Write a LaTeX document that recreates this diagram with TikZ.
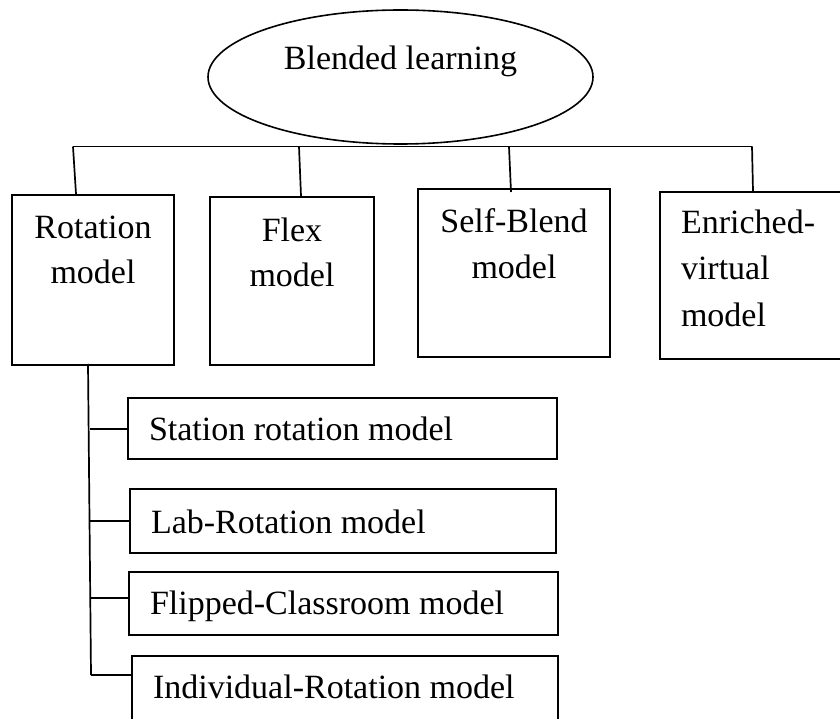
\documentclass[tikz,border=0pt]{standalone}
\usepackage{fontspec}
\setmainfont{Liberation Serif}
\usetikzlibrary{shapes.geometric}
\tikzset{
  boxst/.style={draw, line width=2pt, inner sep=0pt, anchor=north west,
    font=\fontsize{34pt}{45pt}\selectfont},
  conn/.style={line width=1.7pt},
  rootst/.style={draw, ellipse, line width=1.6pt, inner sep=0pt,
    minimum width=385pt, minimum height=134pt, text height=24pt, text depth=38pt,
    font=\fontsize{34pt}{45pt}\selectfont}
}
\begin{document}
\begin{tikzpicture}[x=1pt,y=-1pt]
\useasboundingbox (0,0) rectangle (840,719);
\clip (0,0) rectangle (840,719);
\fill[white] (0,0) rectangle (840,719);

% root
\node[rootst] (root) at (400.5,77) {Blended learning};

% main boxes
\node[boxst] (rot) at (11,194)
  {\parbox[c][170pt][t]{162pt}{\centering\rule{0pt}{44pt}Rotation\\model}};
\node[boxst] (flex) at (209,196)
  {\parbox[c][168pt][t]{164pt}{\centering\rule{0pt}{44pt}Flex\\model}};
\node[boxst] (self) at (417,188)
  {\parbox[c][168pt][t]{192pt}{\centering\rule{0pt}{44pt}Self-Blend\\model}};
\node[boxst] (enr) at (659,191)
  {\parbox[c][167pt][t]{200pt}{\raggedright\leftskip=21pt\baselineskip=46pt\rule{0pt}{42pt}Enriched-\\virtual\\model}};

% sub boxes
\node[boxst] (st) at (127,397)
  {\parbox[c][61pt][t]{429pt}{\leftskip=21pt\rule{0pt}{42pt}Station rotation model}};
\node[boxst] (lab) at (129,488)
  {\parbox[c][64pt][t]{426pt}{\leftskip=21pt\rule{0pt}{44pt}Lab-Rotation model}};
\node[boxst] (flip) at (128,571)
  {\parbox[c][63pt][t]{429pt}{\leftskip=21pt\rule{0pt}{42pt}Flipped-Classroom model}};
\node[boxst] (ind) at (131,655)
  {\parbox[c][80pt][t]{426pt}{\leftskip=21pt\rule{0pt}{42pt}Individual-Rotation model}};

% bus
\coordinate (busL) at (73,146.5);
\coordinate (busR) at (752,146.5);
\coordinate (d2) at (299,146.5);
\coordinate (d3) at (509,146.5);
\draw[conn] (busL) -- (busR);
\draw[conn] (busL) -- ([xshift=3pt]busL |- rot.north);
\draw[conn] (d2) -- ([xshift=2pt]d2 |- flex.north);
\draw[conn] (d3) -- ([xshift=2pt,yshift=-4pt]d3 |- self.north);
\draw[conn] (busR) -- ([xshift=1pt]busR |- enr.north);

% trunk
\coordinate (tt) at (88,364);
\coordinate (b1) at (89.5,429);
\coordinate (b2) at (90,521);
\coordinate (b3) at (90.5,598);
\coordinate (b4) at (91,675);
\draw[conn] (tt) -- (b4);
\draw[conn] (b1) -- (b1 -| st.west);
\draw[conn] (b2) -- (b2 -| lab.west);
\draw[conn] (b3) -- (b3 -| flip.west);
\draw[conn] (b4) -- (b4 -| ind.west);
\end{tikzpicture}
\end{document}
